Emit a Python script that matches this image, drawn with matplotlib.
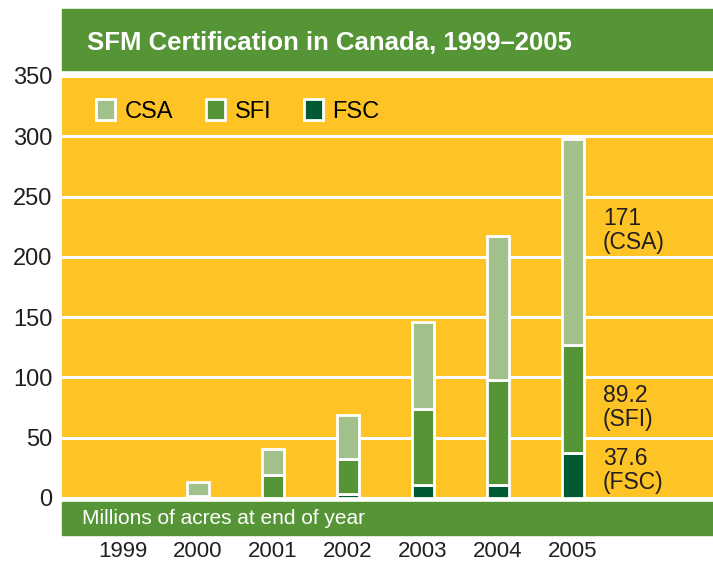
import matplotlib
matplotlib.use("Agg")
import matplotlib.pyplot as plt
import matplotlib.patches as mpatches
import numpy as np

# Données (millions d'acres en fin d'année)
years = ["1999", "2000", "2001", "2002", "2003", "2004", "2005"]
fsc = [0, 0, 0, 3, 11, 11, 37.6]
sfi = [0, 2, 19, 29, 63, 87, 89.2]
csa = [0, 11, 22, 37, 72, 119, 171]
series_names = ["CSA", "SFI", "FSC"]
notes = ["171\n(CSA)", "89.2\n(SFI)", "37.6\n(FSC)"]
note_y = [222, 75, 23]

yellow = "#FEC325"
green = "#559536"
light = "#A2C08A"
dark = "#005A33"
ink = "#231F20"

plt.rcParams["font.family"] = ["Liberation Sans", "DejaVu Sans"]

fig = plt.figure(figsize=(7.13, 5.64), dpi=100)

# bandeau du titre
fig.patches.append(mpatches.Rectangle((62 / 713, 494 / 564), 651 / 713, 61 / 564,
                                      transform=fig.transFigure, color=green, zorder=0))
fig.text(87 / 713, 521 / 564, "SFM Certification in Canada, 1999\u20132005", color="white",
         fontsize=18.5, fontweight="bold", va="center", ha="left")

# bandeau du bas
fig.patches.append(mpatches.Rectangle((62 / 713, 29 / 564), 651 / 713, 33 / 564,
                                      transform=fig.transFigure, color=green, zorder=0))
fig.text(82 / 713, 45 / 564, "Millions of acres at end of year", color="white",
         fontsize=15, va="center", ha="left")

ax = fig.add_axes([62 / 713, 66 / 564, 651 / 713, 422 / 564])
ax.set_facecolor(yellow)
for s in ax.spines.values():
    s.set_visible(False)

x = np.arange(len(years))
w = 0.29
fsc = np.array(fsc)
sfi = np.array(sfi)
csa = np.array(csa)

def lw(vals):
    return [0 if v == 0 else 2 for v in vals]

ax.bar(x, fsc, w, color=dark, edgecolor="white", linewidth=lw(fsc), zorder=3)
ax.bar(x, sfi, w, bottom=fsc, color=green, edgecolor="white", linewidth=lw(sfi), zorder=3)
ax.bar(x, csa, w, bottom=fsc + sfi, color=light, edgecolor="white", linewidth=lw(csa), zorder=3)

for txt, yy in zip(notes, note_y):
    ax.text(6.4, yy, txt, fontsize=16.5, va="center", ha="left", color=ink,
            linespacing=1.05)

ax.set_xlim(-0.813, 7.867)
ax.set_ylim(0, 350)
ax.set_yticks(range(0, 351, 50))
ax.set_xticks(x)
ax.set_xticklabels(years)
ax.tick_params(length=0, labelcolor=ink)
ax.tick_params(axis="y", pad=7, labelsize=17)
ax.tick_params(axis="x", pad=31, labelsize=16)
ax.set_axisbelow(True)
ax.yaxis.grid(True, color="white", linewidth=2.2)

handles = [mpatches.Patch(facecolor=c, edgecolor="white", linewidth=2)
           for c in [light, green, dark]]
ax.legend(handles, series_names, ncol=3, frameon=False, loc="upper left",
          bbox_to_anchor=(0.02, 0.995), fontsize=17, handlelength=0.8, handleheight=0.95,
          handletextpad=0.4, columnspacing=1.4)

fig.savefig("out.png", dpi=100)
